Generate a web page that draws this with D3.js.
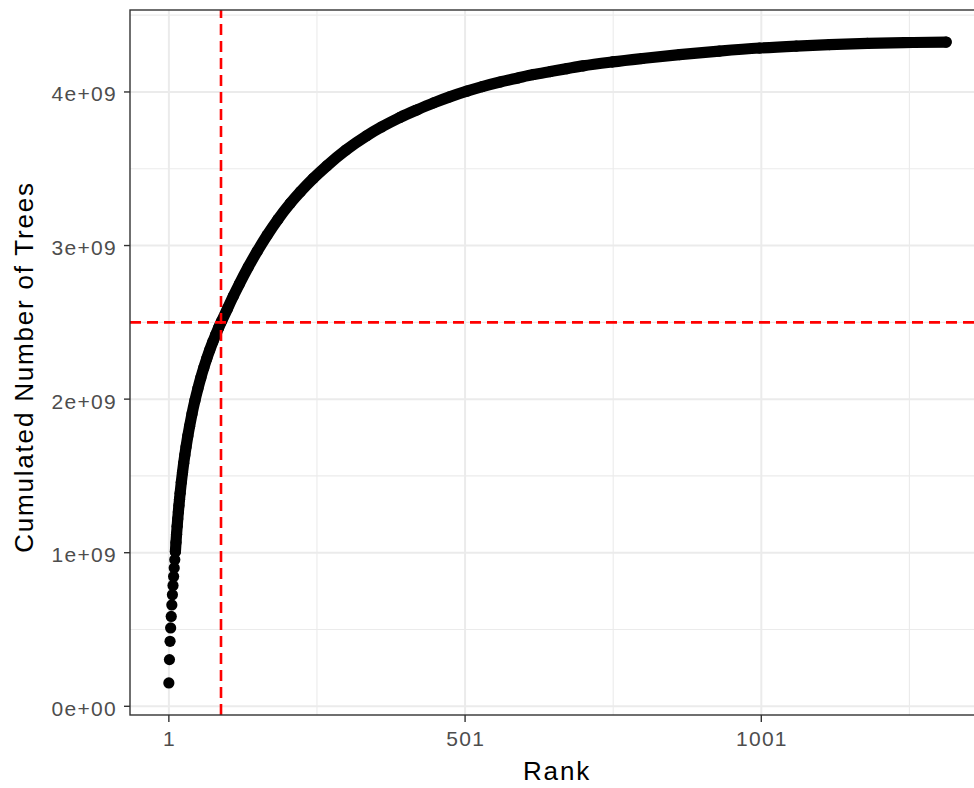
<!DOCTYPE html>
<html>
<head>
<meta charset="utf-8">
<script src="https://cdn.jsdelivr.net/npm/d3@7"></script>
<style>
  body { margin: 0; background: #fff; }
  svg text { font-family: "Liberation Sans", Arial, sans-serif; }
</style>
</head>
<body>
<svg id="chart" width="974" height="788"></svg>
<script>
// readings: rank and cumulated number of trees (billions)
var rank = [1,2,3,4,5,6,7,8,9,10,11,12,13,14,15,16,17,18,19,20,
  22,24,26,28,30,33,36,40,45,50,55,60,65,70,75,80,85,90,
  100,110,120,135,150,167,185,206,223,245,268,300,
  335,360,391,420,448,475,504,530,560,590,616,645,673,700,
  750,800,863,930,998,1060,1116,1180,1257,1313];
var cumTreesBn = [0.152,0.304,0.423,0.510,0.585,0.660,0.726,0.787,0.845,0.900,
  0.954,1.006,1.066,1.121,1.172,1.220,1.265,1.308,1.348,1.387,
  1.458,1.522,1.582,1.637,1.689,1.760,1.824,1.903,1.991,2.069,2.140,2.205,2.265,2.320,2.371,2.419,2.465,2.507,
  2.590,2.672,2.750,2.860,2.962,3.068,3.170,3.275,3.350,3.438,3.520,3.622,
  3.715,3.772,3.834,3.884,3.929,3.968,4.005,4.035,4.065,4.091,4.113,4.133,4.152,4.170,
  4.196,4.218,4.243,4.266,4.286,4.299,4.308,4.316,4.322,4.325];

var xBreaks = [1, 501, 1001];
var xMinor = [251, 751, 1251];
var yBreaks = [0, 1e9, 2e9, 3e9, 4e9];
var yMinor = [0.5e9, 1.5e9, 2.5e9, 3.5e9, 4.5e9];
var yLabels = ["0e+00", "1e+09", "2e+09", "3e+09", "4e+09"];
var rankCut = [89];
var treesCut = [2.5e9];

var data = rank.map(function(r, i) { return {rank: r, trees: cumTreesBn[i] * 1e9}; });

var panel = {left: 130, right: 985, top: 10, bottom: 715};
var svg = d3.select("#chart");

// ggplot-like 5% expansion
function expand(ext) {
  var pad = (ext[1] - ext[0]) * 0.05;
  return [ext[0] - pad, ext[1] + pad];
}
var x = d3.scaleLinear().domain(expand(d3.extent(data, function(d) { return d.rank; })))
  .range([panel.left, panel.right]);
var y = d3.scaleLinear().domain(expand(d3.extent(data, function(d) { return d.trees; })))
  .range([panel.bottom, panel.top]);

var grid = svg.append("g");
grid.selectAll("line.ymin").data(yMinor.filter(function(v) { return y(v) > panel.top; }))
  .enter().append("line")
    .attr("x1", panel.left).attr("x2", panel.right)
    .attr("y1", y).attr("y2", y)
    .attr("stroke", "#ebebeb").attr("stroke-width", 1.1);
grid.selectAll("line.xmin").data(xMinor)
  .enter().append("line")
    .attr("x1", x).attr("x2", x)
    .attr("y1", panel.top).attr("y2", panel.bottom)
    .attr("stroke", "#ebebeb").attr("stroke-width", 1.1);
grid.selectAll("line.ymaj").data(yBreaks)
  .enter().append("line")
    .attr("x1", panel.left).attr("x2", panel.right)
    .attr("y1", y).attr("y2", y)
    .attr("stroke", "#ebebeb").attr("stroke-width", 2);
grid.selectAll("line.xmaj").data(xBreaks)
  .enter().append("line")
    .attr("x1", x).attr("x2", x)
    .attr("y1", panel.top).attr("y2", panel.bottom)
    .attr("stroke", "#ebebeb").attr("stroke-width", 2);

// the points overlap into a solid band past the first dozen ranks
var r = 5.6;
var band = d3.line()
  .x(function(d) { return x(d.rank); })
  .y(function(d) { return y(d.trees); })
  .curve(d3.curveMonotoneX);
svg.append("path")
  .datum(data.filter(function(d) { return d.rank >= 12; }))
  .attr("d", band)
  .attr("fill", "none")
  .attr("stroke", "#000")
  .attr("stroke-width", r * 2)
  .attr("stroke-linecap", "round")
  .attr("stroke-linejoin", "round");

svg.append("g").selectAll("circle").data(data)
  .enter().append("circle")
    .attr("cx", function(d) { return x(d.rank); })
    .attr("cy", function(d) { return y(d.trees); })
    .attr("r", r)
    .attr("fill", "#000");

// red reference lines
svg.selectAll("line.vcut").data(rankCut)
  .enter().append("line")
    .attr("x1", x).attr("x2", x)
    .attr("y1", panel.bottom).attr("y2", panel.top)
    .attr("stroke", "#ff0000").attr("stroke-width", 2.6)
    .attr("stroke-dasharray", "11,6");
svg.selectAll("line.hcut").data(treesCut)
  .enter().append("line")
    .attr("x1", panel.left).attr("x2", panel.right)
    .attr("y1", y).attr("y2", y)
    .attr("stroke", "#ff0000").attr("stroke-width", 2.6)
    .attr("stroke-dasharray", "11,6");

// panel border
svg.append("rect")
  .attr("x", panel.left).attr("y", panel.top)
  .attr("width", panel.right - panel.left).attr("height", panel.bottom - panel.top)
  .attr("fill", "none").attr("stroke", "#333").attr("stroke-width", 1.4);

// axes
var yAxis = svg.append("g");
yAxis.selectAll("line").data(yBreaks)
  .enter().append("line")
    .attr("x1", panel.left - 6).attr("x2", panel.left)
    .attr("y1", y).attr("y2", y)
    .attr("stroke", "#333").attr("stroke-width", 1.4);
yAxis.selectAll("text").data(yBreaks)
  .enter().append("text")
    .attr("x", panel.left - 13)
    .attr("y", function(d) { return y(d) + 9.5; })
    .attr("text-anchor", "end")
    .attr("font-size", 21)
    .attr("letter-spacing", 1.3)
    .attr("fill", "#4d4d4d")
    .text(function(d, i) { return yLabels[i]; });

var xAxis = svg.append("g");
xAxis.selectAll("line").data(xBreaks)
  .enter().append("line")
    .attr("x1", x).attr("x2", x)
    .attr("y1", panel.bottom).attr("y2", panel.bottom + 7)
    .attr("stroke", "#333").attr("stroke-width", 1.4);
xAxis.selectAll("text").data(xBreaks)
  .enter().append("text")
    .attr("x", function(d) { return x(d) + 0.6; })
    .attr("y", 746)
    .attr("text-anchor", "middle")
    .attr("font-size", 21)
    .attr("letter-spacing", 1.3)
    .attr("fill", "#4d4d4d")
    .text(function(d) { return d; });

svg.append("text")
  .attr("x", 557).attr("y", 780)
  .attr("text-anchor", "middle")
  .attr("font-size", 26)
  .attr("letter-spacing", 1.8)
  .attr("fill", "#000")
  .text("Rank");

svg.append("text")
  .attr("transform", "translate(33,367) rotate(-90)")
  .attr("text-anchor", "middle")
  .attr("font-size", 26)
  .attr("letter-spacing", 1.8)
  .attr("fill", "#000")
  .text("Cumulated Number of Trees");
</script>
</body>
</html>
